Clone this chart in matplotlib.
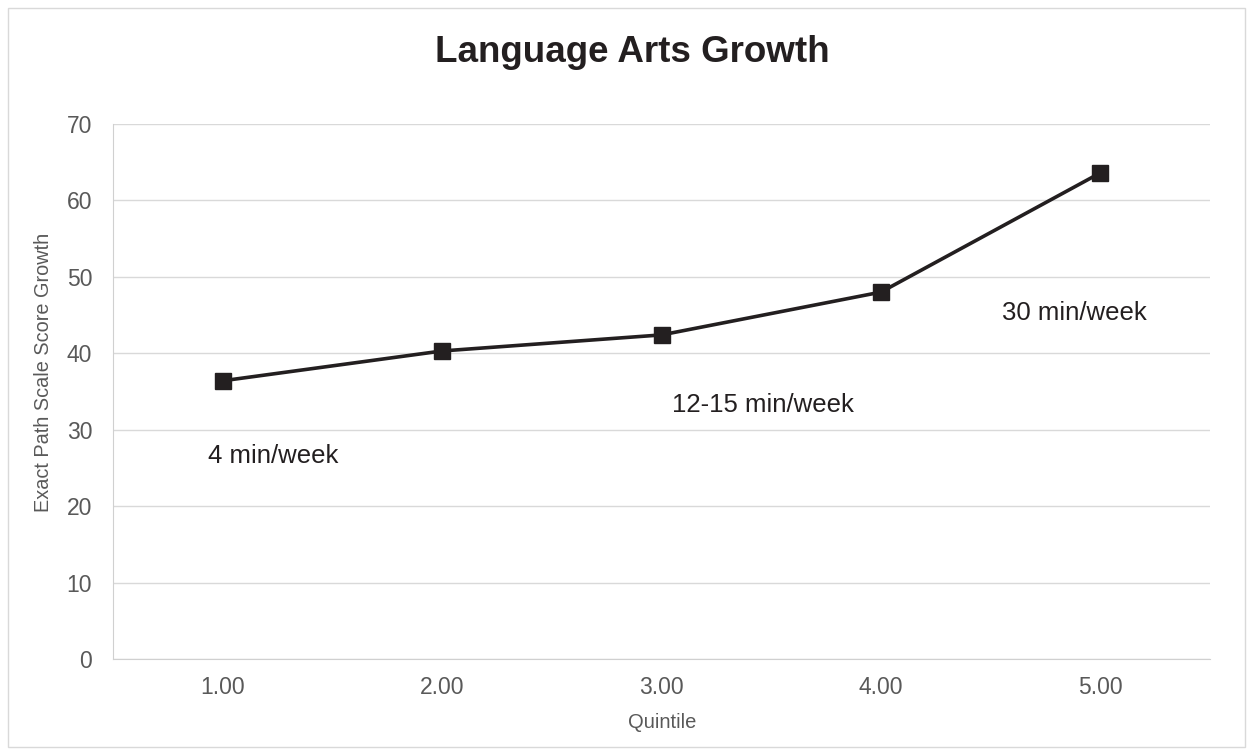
import matplotlib.pyplot as plt
from matplotlib.patches import Rectangle

plt.rcParams['font.family'] = ['Liberation Sans', 'DejaVu Sans']

quintiles = ['1.00', '2.00', '3.00', '4.00', '5.00']
growth = [36.4, 40.3, 42.4, 48.0, 63.6]
notes = ['4 min/week', '12-15 min/week', '30 min/week']
note_x = [-0.065, 2.05, 3.55]
note_y = [25.65, 32.3, 44.35]

fig = plt.figure(figsize=(12.53, 7.55), dpi=100)
ax = fig.add_axes([0.0902, 0.1272, 0.8755, 0.7086])

# chart border
fig.patches.append(Rectangle((8 / 1253, 8 / 755), 1237 / 1253, 739 / 755,
                             transform=fig.transFigure, fill=False,
                             edgecolor='#d9d9d9', linewidth=1))

x = list(range(len(quintiles)))
ax.plot(x, growth, color='#231f20', linewidth=2.6, marker='s',
        markersize=11, zorder=3)

for t, tx, ty in zip(notes, note_x, note_y):
    ax.text(tx, ty, t, fontsize=18.5, color='#231f20', va='baseline', ha='left')

ax.set_xlim(-0.5, 4.5)
ax.set_ylim(0, 70)
ax.set_yticks(range(0, 71, 10))
ax.set_xticks(x)
ax.set_xticklabels(quintiles)
ax.grid(axis='y', color='#d9d9d9', linewidth=1)
ax.set_axisbelow(True)
for s in ['top', 'right']:
    ax.spines[s].set_visible(False)
ax.spines['left'].set_color('#d0d0d0')
ax.spines['bottom'].set_color('#d0d0d0')
ax.tick_params(length=0, labelsize=16.5, colors='#595959')
ax.tick_params(axis='x', pad=12)
ax.tick_params(axis='y', pad=15)

fig.text(662 / 1253, 1 - 728 / 755, 'Quintile', fontsize=14.5,
         color='#595959', ha='center', va='baseline')
fig.text(44 / 1253, 1 - 372 / 755, 'Exact Path Scale Score Growth',
         fontsize=14.3, color='#595959', ha='center', va='center',
         rotation=90)
fig.text(632 / 1253, 1 - 62 / 755, 'Language Arts Growth', fontsize=26.5,
         weight='bold', color='#231f20', ha='center', va='baseline')

fig.savefig('out.png', dpi=100)
